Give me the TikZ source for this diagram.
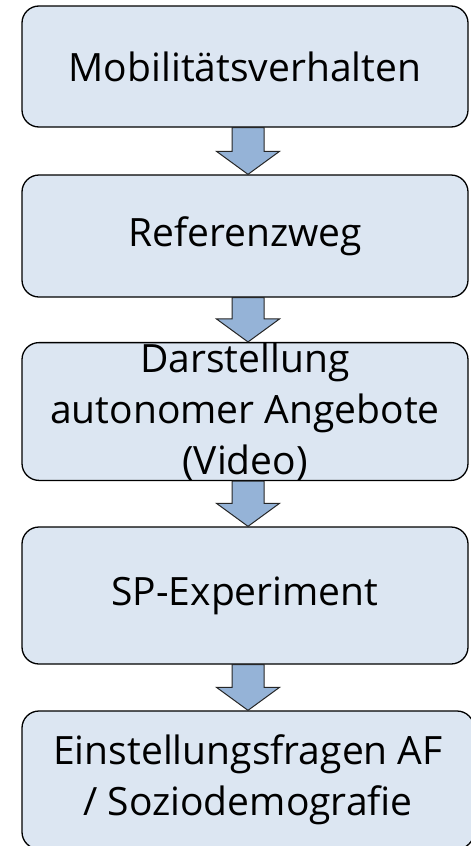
\documentclass[tikz,border=0pt]{standalone}
\usepackage{fontspec}
\setmainfont{Open Sans}
\usetikzlibrary{calc}
\definecolor{boxfill}{HTML}{DCE6F2}
\definecolor{arrfill}{HTML}{95B3D7}
\newcommand\flowarrow[2]{%
  \draw[blockarr] let \p1=(#1.south), \p2=(#2.north) in
    (\x1+3pt-16pt,\y1) -- (\x1+3pt-16pt,\y2+23pt) -- (\x1+3pt-31.5pt,\y2+23pt)
    -- (\x1+3pt,\y2) -- (\x1+3pt+31.5pt,\y2+23pt) -- (\x1+3pt+16pt,\y2+23pt)
    -- (\x1+3pt+16pt,\y1) -- cycle;}
\begin{document}
\begin{tikzpicture}[x=1pt,y=-1pt,
  stepbox/.style={draw=black, line width=1.3pt, fill=boxfill, rounded corners=17pt,
    minimum width=446pt, inner sep=0pt, align=center,
    font=\fontsize{39}{51}\selectfont},
  blockarr/.style={draw=black!85, line width=1pt, fill=arrfill, line join=miter}]
\useasboundingbox (0,0) rectangle (471,846);
\node[stepbox, minimum height=121pt] (b1) at (245,66.5) {Mobilitätsverhalten};
\node[stepbox, minimum height=122pt] (b2) at (245,236) {Referenzweg};
\node[stepbox, minimum height=137pt] (b3) at (245,411.5) {Darstellung\\autonomer Angebote\\(Video)};
\node[stepbox, minimum height=137pt] (b4) at (245,595.5) {SP-Experiment};
\node[stepbox, minimum height=138pt, minimum width=452pt] (b5) at (248,780) {Einstellungsfragen AF\\/ Soziodemografie};
\flowarrow{b1}{b2}
\flowarrow{b2}{b3}
\flowarrow{b3}{b4}
\flowarrow{b4}{b5}
\end{tikzpicture}
\end{document}
